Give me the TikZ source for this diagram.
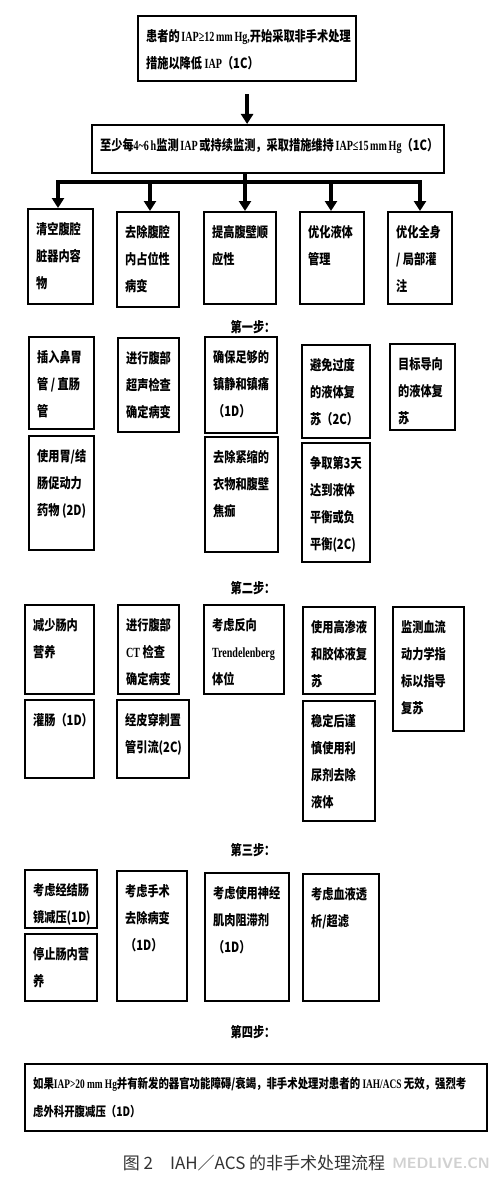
\documentclass[tikz,border=0pt]{standalone}
\usepackage{fontspec}
\newfontfamily\cjk[FakeStretch=0.8]{Noto Sans CJK SC}
\newfontfamily\lat[FakeStretch=0.72]{Liberation Serif}
\newfontfamily\cjkcap{Noto Sans CJK SC}
\usetikzlibrary{arrows.meta,positioning,calc}

\begin{document}
\begin{tikzpicture}[
  x=1pt, y=-1pt,
  >={Triangle[width=12pt,length=10pt]},
  cell/.style 2 args={draw, line width=2.2pt, anchor=north west,
    inner xsep=8pt, inner ysep=13pt,
    font=\cjk\bfseries\fontsize{14pt}{27pt}\selectfont,
    execute at begin node={\begin{minipage}[t][\dimexpr#2pt-26pt\relax][t]{\dimexpr#1pt-16pt\relax}},
    execute at end node={\end{minipage}}},
  steplabel/.style={font=\cjk\bfseries\fontsize{14pt}{16pt}\selectfont},
  flow/.style={->, line width=4.5pt},
  bus/.style={line width=3.5pt, line cap=rect}
]
\fill[white] (0,0) rectangle (500,1180);
\useasboundingbox (0,0) rectangle (500,1180);

% Starting condition and monitoring
\node[cell={218}{65}] (start) at (137,15)
  {患者的~{\lat IAP≥12~mm~Hg,}开始采取非手术处理\\措施以降低~{\lat IAP}（1C）};
\node[cell={352}{48}] (monitor) at (91,124)
  {至少每{\lat 4\textasciitilde6~h}监测~{\lat IAP}~或持续监测，采取措施维持~{\lat IAP≤15~mm~Hg}（1C）};

% Five treatment targets
\node[cell={65}{95}] (clear) at (27,208) {清空腹腔\\脏器内容\\物};
\node[cell={62}{95}] (remove) at (116,211) {去除腹腔\\内占位性\\病变};
\node[cell={72}{92}] (compl) at (203,211) {提高腹壁顺\\应性};
\node[cell={64}{92}] (fluid) at (299,211) {优化液体\\管理};
\node[cell={64}{92}] (perf) at (387,211) {优化全身\\/ 局部灌\\注};

\draw[flow, shorten <=12pt] (start.south) -- (start.south |- monitor.north);
\coordinate (b1) at (58,182);
\coordinate (b2) at (150,182);
\coordinate (b3) at (245,182);
\coordinate (b4) at (331,182);
\coordinate (b5) at (420,182);
\draw[bus] (b1) -- (b5);
\draw[flow] (monitor.south -| b3) -- (b3 |- compl.north);
\foreach \b/\t in {b1/clear, b2/remove, b4/fluid, b5/perf}
  \draw[flow] (\b) -- (\b |- \t.north);

% Step labels
\foreach \i/\y/\txt in {1/327/第一步：, 2/588/第二步：, 3/850/第三步：, 4/1032/第四步：}
  \node[steplabel] (step\i) at (253,\y) {\txt};

% Step 1
\node[cell={65}{92}] (s1a1) at (28,336) {插入鼻胃\\管 / 直肠\\管};
\node[cell={65}{114}] (s1a2) at (28,435) {使用胃/结\\肠促动力\\药物 (2D)};
\node[cell={61}{94}] (s1b1) at (117,337) {进行腹部\\超声检查\\确定病变};
\node[cell={72}{96}] (s1c1) at (204,336) {确保足够的\\镇静和镇痛\\（1D）};
\node[cell={73}{115}] (s1c2) at (204,436) {去除紧缩的\\衣物和腹壁\\焦痂};
\node[cell={68}{93}] (s1d1) at (301,344) {避免过度\\的液体复\\苏（2C）};
\node[cell={68}{119}] (s1d2) at (301,442) {争取第3天\\达到液体\\平衡或负\\平衡(2C)};
\node[cell={65}{86}] (s1e1) at (389,343) {目标导向\\的液体复\\苏};

% Step 2
\node[cell={69}{89}] (s2a1) at (24,604) {减少肠内\\营养};
\node[cell={69}{78}] (s2a2) at (24,699) {灌肠（1D）};
\node[cell={61}{89}] (s2b1) at (117,604) {进行腹部\\\ {\lat CT}~检查\\确定病变};
\node[cell={72}{78}] (s2b2) at (116,699) {经皮穿刺置\\管引流(2C)};
\node[cell={80}{89}] (s2c1) at (203,604) {考虑反向\\{\lat Trendelenberg}\\体位};
\node[cell={72}{87}] (s2d1) at (302,606) {使用高渗液\\和胶体液复\\苏};
\node[cell={72}{120}] (s2d2) at (302,700) {稳定后谨\\慎使用利\\尿剂去除\\液体};
\node[cell={71}{124}] (s2e1) at (392,606) {监测血流\\动力学指\\标以指导\\复苏};

% Step 3
\node[cell={72}{58}] (s3a1) at (24,869) {考虑经结肠\\镜减压(1D)};
\node[cell={72}{67}] (s3a2) at (24,933) {停止肠内营\\养};
\node[cell={70}{130}] (s3b) at (116,870) {考虑手术\\去除病变\\（1D）};
\node[cell={84}{128}] (s3c) at (204,872) {考虑使用神经\\肌肉阻滞剂\\（1D）};
\node[cell={76}{127}] (s3d) at (302,873) {考虑血液透\\析/超滤};

% Step 4
\node[cell={462}{67}, font=\cjk\bfseries\fontsize{13pt}{28pt}\selectfont] (s4) at (24,1063)
  {如果{\lat IAP>20~mm~Hg}并有新发的器官功能障碍/衰竭，非手术处理对患者的~{\lat IAH/ACS}~无效，强烈考\\虑外科开腹减压（1D）};

% Caption
\node[font=\cjkcap\fontsize{17pt}{20pt}\selectfont, text=black!80] (caption) at (254,1163)
  {图 2\quad IAH／ACS 的非手术处理流程};
\node[font=\sffamily\bfseries\fontsize{15pt}{18pt}\selectfont, text=black!18,
      right=0pt of caption] (mark) {MEDLIVE.CN};

\end{tikzpicture}
\end{document}
